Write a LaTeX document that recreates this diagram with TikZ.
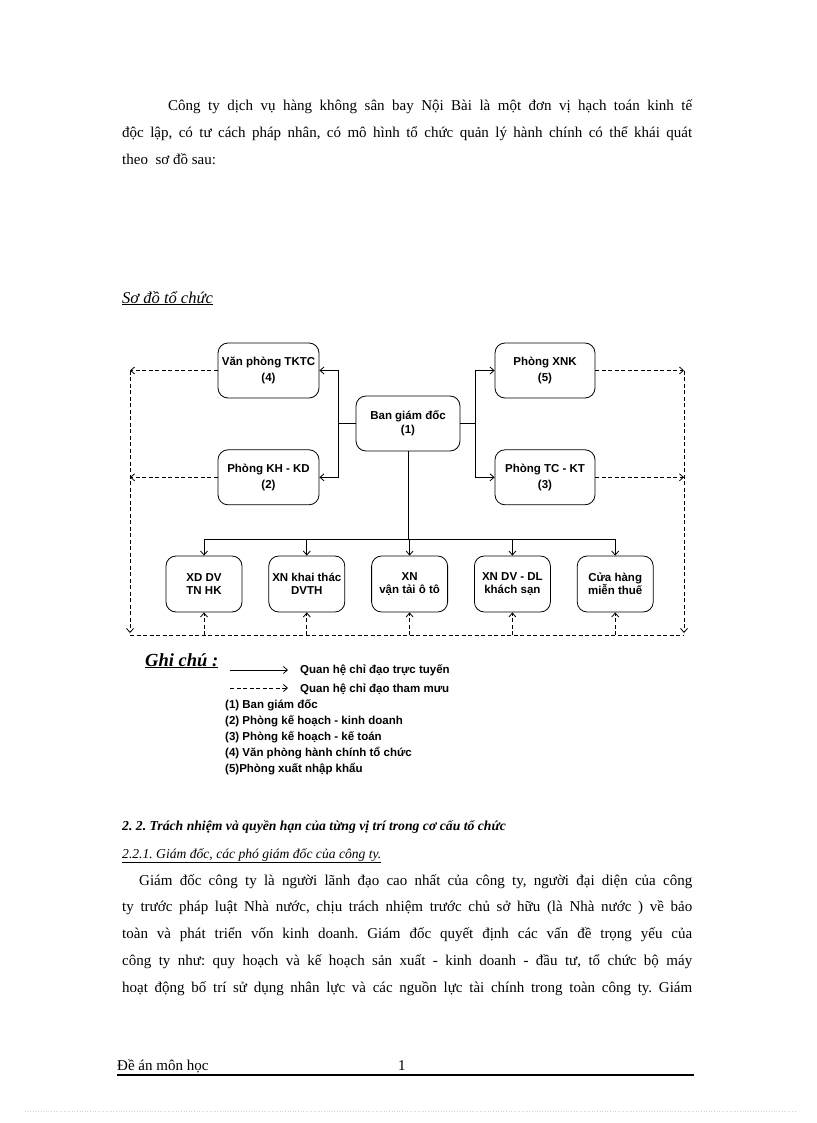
\documentclass[tikz,border=0pt]{standalone}
\usepackage{fontspec}
\setmainfont{Liberation Serif}
\newfontfamily\arialfont{Liberation Sans}
\usetikzlibrary{positioning,arrows.meta}
\frenchspacing

\begin{document}
\begin{tikzpicture} [
	x=1pt,y=-1pt,
	text centered,
	node distance=26pt,
	txt/.style={
		anchor=base west,inner sep=0pt,
		font=\fontsize{15}{18}\selectfont
	},
	dept/.style={
		rectangle,rounded corners=10pt,draw,line width=0.8pt,inner sep=2pt,
		minimum width=101pt,minimum height=55pt,align=center,
		font=\arialfont\bfseries\fontsize{11.5}{16.5}\selectfont
	},
	boss/.style={
		dept,minimum width=104pt,
		font=\arialfont\bfseries\fontsize{11.5}{13.5}\selectfont
	},
	unit/.style={
		dept,minimum width=76pt,minimum height=56pt,
		font=\arialfont\bfseries\fontsize{11.5}{13.5}\selectfont
	},
	note/.style={
		anchor=base west,inner sep=0pt,
		font=\arialfont\bfseries\fontsize{11.5}{14}\selectfont
	},
	link/.style={line width=0.8pt},
	advise/.style={link,dash pattern=on 4pt off 2.5pt},
	arr/.style={-{Straight Barb[length=4pt,width=7pt]}}
]
\useasboundingbox (0,0) rectangle (816,1123);

\node [txt]	(introa) at (168,111)	{\makebox[524pt][s]{Công ty dịch vụ hàng không sân bay Nội Bài là một đơn vị hạch toán kinh tế}};
\node [txt]	(introb) at (122,138)	{\makebox[570pt][s]{độc lập, có tư cách pháp nhân, có mô hình tổ chức quản lý hành chính có thể khái quát}};
\node [txt]	(introc) at (122,165)	{theo\ \ sơ đồ sau:};
\node [txt,font=\itshape\fontsize{16.5}{19}\selectfont]	(title) at (122,303)	{\underline{Sơ đồ tổ chức}};

\node [boss]	(ban) at (408,423.5)	{Ban giám đốc\\(1)};
\node [dept]	(tktc) at (268.5,370.5)	{Văn phòng TKTC\\(4)};
\node [dept]	(khkd)[below=51pt of tktc]	{Phòng KH - KD\\(2)};
\node [dept,minimum width=100pt]	(xnk) at (545,370.5)	{Phòng XNK\\(5)};
\node [dept,minimum width=100pt]	(tckt)[below=51pt of xnk]	{Phòng TC - KT\\(3)};
\node [unit]	(xddv) at (204,584)	{XD DV\\TN HK};
\node [unit]	(khaithac)[right=of xddv]	{XN khai thác\\DVTH};
\node [unit]	(vantai)[right=of khaithac]	{XN\\vận tải ô tô};
\node [unit]	(khachsan)[right=of vantai]	{XN DV - DL\\khách sạn};
\node [unit]	(cuahang)[right=of khachsan]	{Cửa hàng\\miễn thuế};

\coordinate (lbus) at (338,423.5);
\coordinate (rbus) at (475,423.5);
\coordinate (dbus) at (408,539);
\coordinate (ledge) at (130,635);
\coordinate (redge) at (684,635);

\draw [link]		(ban.west) -- (lbus);
\draw [link,arr]	(lbus) |- (tktc.east);
\draw [link,arr]	(lbus) |- (khkd.east);
\draw [link]		(ban.east) -- (rbus);
\draw [link,arr]	(rbus) |- (xnk.west);
\draw [link,arr]	(rbus) |- (tckt.west);
\draw [link]		(ban.south) -- (dbus);
\draw [link]		(xddv.north |- dbus) -- (cuahang.north |- dbus);
\foreach \u in {xddv,khaithac,vantai,khachsan,cuahang}
	\draw [link,arr] (\u.north |- dbus) -- (\u.north);

\draw [advise,arr]	(tktc.west) -- (tktc.west -| ledge);
\draw [advise,arr]	(khkd.west) -- (khkd.west -| ledge);
\draw [advise,arr]	(tktc.west -| ledge) -- ([yshift=2pt]ledge);
\draw [advise,arr]	(xnk.east) -- (xnk.east -| redge);
\draw [advise,arr]	(tckt.east) -- (tckt.east -| redge);
\draw [advise,arr]	(xnk.east -| redge) -- ([yshift=2pt]redge);
\draw [advise]		(ledge) -- (redge);
\foreach \u in {xddv,khaithac,vantai,khachsan,cuahang}
	\draw [advise,arr] (\u.south |- ledge) -- (\u.south);

\node [anchor=base west,inner sep=0pt,font=\bfseries\itshape\fontsize{18.5}{21}\selectfont]	(ghichu) at (145,666)	{\underline{Ghi chú :}};
\coordinate (sa) at (230,670);
\coordinate (sb) at (288,670);
\coordinate (da) at (230,688);
\coordinate (db) at (288,688);
\draw [link,arr]	(sa) -- (sb);
\draw [advise,arr]	(da) -- (db);
\node [note]	(tructuyen) at (300,673.5)	{Quan hệ chỉ đạo trực tuyến};
\node [note]	(thammuu) at (300,692)	{Quan hệ chỉ đạo tham mưu};
\foreach \t [count=\i] in {{(1) Ban giám đốc},{(2) Phòng kế hoạch - kinh doanh},{(3) Phòng kế hoạch - kế toán},{(4) Văn phòng hành chính tổ chức},{(5)Phòng xuất nhập khẩu}}
	\node [note] (item\i) at (225,692+16*\i) {\t};

\node [txt,font=\bfseries\itshape\fontsize{13.7}{17}\selectfont]	(section) at (122,830)	{2. 2. Trách nhiệm và quyền hạn của từng vị trí trong cơ cấu tổ chức};
\node [txt,font=\itshape\fontsize{13.6}{17}\selectfont]	(subsection) at (122,858)	{\underline{2.2.1. Giám đốc, các phó giám đốc của công ty.}};
\node [txt]	(bodya) at (139,885)	{\makebox[553pt][s]{Giám đốc công ty là người lãnh đạo cao nhất của công ty, người đại diện của công}};
\node [txt]	(bodyb) at (122,911.5)	{\makebox[570pt][s]{ty trước pháp luật Nhà nước, chịu trách nhiệm trước chủ sở hữu (là Nhà nước ) về bảo}};
\node [txt]	(bodyc) at (122,938)	{\makebox[570pt][s]{toàn và phát triển vốn kinh doanh. Giám đốc quyết định các vấn đề trọng yếu của}};
\node [txt]	(bodyd) at (122,965)	{\makebox[570pt][s]{công ty như: quy hoạch và kế hoạch sản xuất - kinh doanh - đầu tư, tổ chức bộ máy}};
\node [txt]	(bodye) at (122,992)	{\makebox[570pt][s]{hoạt động bố trí sử dụng nhân lực và các nguồn lực tài chính trong toàn công ty. Giám}};

\node [txt]	(footer) at (117,1070)	{Đề án môn học};
\node [txt]	(pageno) at (398,1070)	{1};
\coordinate (fl) at (117,1075);
\coordinate (fr) at (694,1075);
\draw [line width=1.2pt]	(fl) -- (fr);
\coordinate (el) at (25,1111);
\coordinate (er) at (795,1111);
\draw [gray!35,dotted,line width=0.6pt]	(el) -- (er);
\end{tikzpicture}
\end{document}
